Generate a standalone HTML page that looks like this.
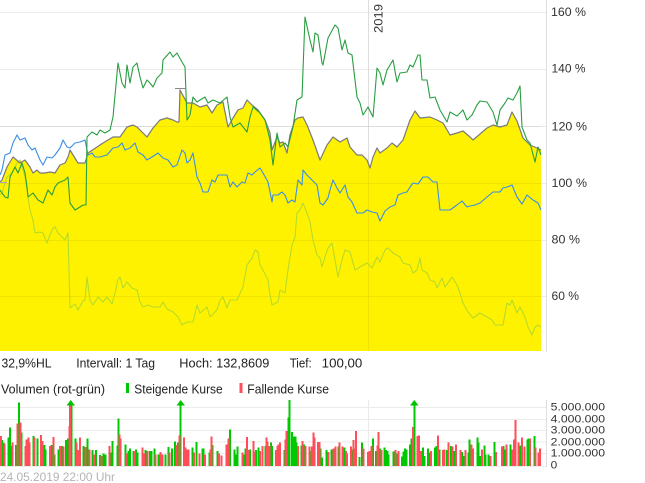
<!DOCTYPE html>
<html><head><meta charset="utf-8"><style>
html,body{margin:0;padding:0;background:#fff;}
svg{display:block;}
text{font-family:"Liberation Sans",Arial,sans-serif;}
</style></head><body>
<svg width="645" height="483" viewBox="0 0 645 483" xmlns="http://www.w3.org/2000/svg">
<rect width="645" height="483" fill="#fff"/>
<g stroke="#ebebeb" stroke-width="1">
<line x1="0" y1="12.5" x2="546" y2="12.5"/>
<line x1="0" y1="69.5" x2="546" y2="69.5"/>
<line x1="0" y1="126.5" x2="546" y2="126.5"/>
<line x1="0" y1="183.5" x2="546" y2="183.5"/>
<line x1="0" y1="240.5" x2="546" y2="240.5"/>
<line x1="0" y1="296.5" x2="546" y2="296.5"/>
<line x1="368.5" y1="0" x2="368.5" y2="351"/>
</g>
<line x1="546.5" y1="0" x2="546.5" y2="352" stroke="#dedede"/>
<polygon fill="#fff200" points="0,182 2,180 7,167 13,157 20,163 25,160 30,167 33,173 37,170 40,173 45,173 50,172 55,173 60,165 65,163 68,157 70,150 78,163 85,163 88,153 97,147 103,143 113,137 120,137 127,127 133,125 137,127 143,133 147,137 153,128 160,120 167,118 173,120 177,122 179,122 180,90 187,103 193,103 200,107 207,105 212,113 217,105 223,102 228,127 233,118 238,110 243,108 247,100 252,105 258,110 265,120 270,133 272,150 277,137 280,143 283,142 287,153 290,135 295,120 298,118 303,117 307,125 313,140 320,160 327,145 333,137 340,142 347,138 350,147 357,155 362,155 367,160 370,168 373,157 377,148 380,153 387,148 392,143 397,147 403,140 410,120 415,111 420,118 430,117 437,120 443,123 450,135 457,133 463,131 470,137 473,140 480,134 487,128 493,125 500,127 507,125 512,112 517,121 523,138 530,145 537,148 541,150 541,351 0,351"/>
<g stroke="rgba(0,0,0,0.06)" stroke-width="1">
<line x1="0" y1="126.5" x2="541" y2="126.5"/>
<line x1="0" y1="183.5" x2="541" y2="183.5"/>
<line x1="0" y1="240.5" x2="541" y2="240.5"/>
<line x1="0" y1="296.5" x2="541" y2="296.5"/>
<line x1="368.5" y1="0" x2="368.5" y2="351"/>
</g>
<polyline fill="none" stroke="#b6da2a" stroke-width="1.1" stroke-linejoin="round" points="0,195 2,193 7,177 12,173 17,163 20,160 23,170 25,177 27,190 30,210 33,220 35,233 40,232 43,233 47,243 50,235 53,228 55,227 58,233 62,237 65,240 68,233 70,308 75,304 78,310 83,301 85,300 87,277 90,300 93,305 98,297 103,302 107,297 112,304 115,293 118,280 120,277 123,288 127,282 132,288 137,290 140,302 143,307 148,305 153,307 160,307 163,302 167,309 173,312 178,317 182,325 187,322 193,322 197,305 200,313 207,307 210,317 217,310 220,300 223,297 227,308 230,300 237,300 243,287 247,265 252,258 255,250 258,252 260,265 263,270 268,280 270,295 272,305 278,302 280,290 285,293 288,270 292,245 295,237 297,213 300,210 303,203 307,213 310,222 313,240 317,255 320,258 322,267 325,257 328,248 332,243 335,260 338,277 342,260 345,250 350,252 355,270 360,267 367,263 372,268 377,257 380,262 385,250 388,248 393,253 400,257 403,263 410,265 413,273 417,270 420,258 422,270 427,273 430,280 435,282 437,288 442,278 445,287 452,277 457,285 460,293 463,303 468,312 473,318 480,313 487,317 492,320 495,325 503,325 507,303 510,305 512,300 517,313 520,307 525,317 528,327 532,335 535,327 538,325 541,327"/>
<polyline fill="none" stroke="#3a8ee6" stroke-width="1.1" stroke-linejoin="round" points="0,175 2,170 5,155 10,153 13,143 17,135 20,140 25,138 28,145 32,150 35,148 40,160 43,165 47,157 52,158 55,155 60,148 63,140 67,147 70,148 75,143 80,142 85,140 88,155 92,153 95,157 100,157 107,155 113,148 118,147 122,143 125,150 130,148 135,143 138,152 143,155 147,160 152,157 155,155 158,153 163,158 168,160 173,167 177,165 182,150 185,153 187,163 190,160 193,153 197,177 200,183 203,192 208,192 212,180 215,182 218,175 223,175 227,175 230,187 233,182 237,187 242,182 245,183 248,173 252,175 255,172 260,168 263,173 268,182 272,202 273,195 278,195 282,192 285,195 288,203 292,200 295,202 298,180 302,185 303,170 307,175 312,180 317,185 320,203 323,205 328,198 330,190 333,180 337,188 340,193 345,185 348,197 352,202 357,213 363,213 367,210 372,212 377,213 380,221 385,211 390,207 395,205 398,195 403,193 407,192 410,187 413,183 418,184 423,177 428,177 433,182 437,182 440,210 445,210 450,210 457,205 462,201 467,207 470,206 475,205 480,203 487,197 493,192 500,192 503,188 507,187 512,185 517,197 522,204 527,195 533,200 538,203 541,210"/>
<polyline fill="none" stroke="#7a7a7a" stroke-width="1.2" stroke-linejoin="round" points="0,182 2,180 7,167 13,157 20,163 25,160 30,167 33,173 37,170 40,173 45,173 50,172 55,173 60,165 65,163 68,157 70,150 78,163 85,163 88,153 97,147 103,143 113,137 120,137 127,127 133,125 137,127 143,133 147,137 153,128 160,120 167,118 173,120 177,122 179,122 180,90 187,103 193,103 200,107 207,105 212,113 217,105 223,102 228,127 233,118 238,110 243,108 247,100 252,105 258,110 265,120 270,133 272,150 277,137 280,143 283,142 287,153 290,135 295,120 298,118 303,117 307,125 313,140 320,160 327,145 333,137 340,142 347,138 350,147 357,155 362,155 367,160 370,168 373,157 377,148 380,153 387,148 392,143 397,147 403,140 410,120 415,111 420,118 430,117 437,120 443,123 450,135 457,133 463,131 470,137 473,140 480,134 487,128 493,125 500,127 507,125 512,112 517,121 523,138 530,145 537,148 541,150"/>
<line x1="175" y1="88.5" x2="186" y2="88.5" stroke="#8a8a8a" stroke-width="1"/>
<line x1="0" y1="182.5" x2="7" y2="182.5" stroke="#a8a8c0" stroke-width="1"/>
<polyline fill="none" stroke="#2a9e42" stroke-width="1.1" stroke-linejoin="round" points="0,190 2,193 5,197 8,198 10,177 15,167 18,173 22,163 25,173 27,187 28,197 33,193 38,200 43,203 48,190 52,195 55,187 58,183 65,180 68,177 70,203 75,210 80,207 83,205 86,205 87,137 92,132 97,135 100,130 105,133 110,130 113,117 118,63 122,83 125,88 127,65 130,83 133,67 137,63 140,77 143,88 147,80 150,83 153,87 157,78 162,73 163,60 170,52 173,57 177,53 182,62 185,67 187,120 190,115 193,97 197,102 200,100 205,97 208,103 213,100 220,103 227,97 230,117 233,127 240,123 247,132 250,117 253,107 260,113 265,120 270,140 273,165 277,133 280,147 285,143 288,147 293,127 297,100 302,97 305,17 310,40 313,52 315,33 318,35 322,63 323,65 328,38 335,25 338,28 342,50 345,40 348,53 352,55 357,97 360,103 363,115 368,107 373,117 377,68 380,73 383,85 387,70 393,60 397,82 400,73 407,72 410,65 413,67 418,55 420,55 422,80 427,80 430,98 435,97 440,110 447,122 450,112 457,116 463,110 467,120 472,115 477,105 480,101 487,102 493,112 497,125 500,110 505,103 508,98 513,100 517,93 520,86 522,127 527,140 530,143 535,162 538,147 541,155"/>
<text transform="translate(382.3,33) rotate(-90)" font-size="12" fill="#333" textLength="29" lengthAdjust="spacingAndGlyphs">2019</text>
<g font-size="12" fill="#333">
<text x="551" y="16" textLength="35" lengthAdjust="spacingAndGlyphs">160 %</text>
<text x="551.5" y="72.7" textLength="34" lengthAdjust="spacingAndGlyphs">140 %</text>
<text x="551.5" y="130.3" textLength="35.5" lengthAdjust="spacingAndGlyphs">120 %</text>
<text x="551.5" y="187" textLength="35.5" lengthAdjust="spacingAndGlyphs">100 %</text>
<text x="551.5" y="243.7" textLength="28.5" lengthAdjust="spacingAndGlyphs">80 %</text>
<text x="551.5" y="300" textLength="27.5" lengthAdjust="spacingAndGlyphs">60 %</text>
</g>
<g font-size="13" fill="#222">
<text x="1.5" y="367.5" textLength="50" lengthAdjust="spacingAndGlyphs">32,9%HL</text>
<text x="76.3" y="367.5" textLength="78.7" lengthAdjust="spacingAndGlyphs">Intervall: 1 Tag</text>
<text x="179.3" y="367.5" textLength="90" lengthAdjust="spacingAndGlyphs">Hoch: 132,8609</text>
<text x="289.7" y="367.5" textLength="22" lengthAdjust="spacingAndGlyphs">Tief:</text>
<text x="321.7" y="367.5" textLength="40.6" lengthAdjust="spacingAndGlyphs">100,00</text>
</g>
<g font-size="12.5" fill="#222">
<text x="1" y="393.3" textLength="104" lengthAdjust="spacingAndGlyphs">Volumen (rot-grün)</text>
<text x="134.3" y="393.3" textLength="88.4" lengthAdjust="spacingAndGlyphs">Steigende Kurse</text>
<text x="247.3" y="393.3" textLength="81.7" lengthAdjust="spacingAndGlyphs">Fallende Kurse</text>
</g>
<rect x="126" y="383" width="3" height="10" fill="#00c800"/>
<rect x="239.5" y="383" width="3" height="10" fill="#ff4d5a"/>
<g stroke="#ebebeb" stroke-width="1">
<line x1="0" y1="407.5" x2="546" y2="407.5"/>
<line x1="0" y1="419.5" x2="546" y2="419.5"/>
<line x1="0" y1="430.5" x2="546" y2="430.5"/>
<line x1="0" y1="442" x2="546" y2="442"/>
<line x1="0" y1="453.5" x2="546" y2="453.5"/>
<line x1="0" y1="466.5" x2="546" y2="466.5"/>
<line x1="368.5" y1="400" x2="368.5" y2="466"/>
</g>
<line x1="546.5" y1="400" x2="546.5" y2="467" stroke="#dedede"/>
<g transform="translate(0,396) scale(0.33333)" stroke-width="6" fill="none" shape-rendering="crispEdges">
<path stroke="#00c800" d="M6 210V132M10 210V140M25 210V125M30 210V95M33 210V150M48 210V147M57 210V20M65 210V110M100 210V120M112 210V128M133 210V147M137 210V160M155 210V147M163 210V175M175 210V160M186 210V150M198 210V132M204 210V128M214 210V20M226 210V128M250 210V150M262 210V128M277 210V162M288 210V162M300 210V177M310 210V172M316 210V175M333 210V170M337 210V135M352 210V148M355 210V68M376 210V146M385 210V165M390 210V158M400 210V165M408 210V160M412 210V170M437 210V162M450 210V165M455 210V165M463 210V158M476 210V175M496 210V175M505 210V153M516 210V158M525 210V137M534 210V140M541 210V22M577 210V155M589 210V138M607 210V158M610 210V158M628 210V170M638 210V147M652 210V165M690 210V100M704 210V160M708 210V175M712 210V152M730 210V175M737 210V158M750 210V160M768 210V162M776 210V155M796 210V150M813 210V140"/>
<path stroke="#ff4d5a" d="M3 210V120M13 210V142M38 210V140M52 210V83M61 210V80M76 210V150M80 210V130M85 210V125M89 210V140M104 210V125M123 210V117M128 210V135M150 210V150M160 210V123M180 210V150M190 210V152M208 210V90M210 210V22M230 210V140M234 210V162M240 210V125M256 210V153M268 210V160M282 210V175M305 210V180M328 210V150M358 210V115M362 210V128M380 210V172M404 210V165M427 210V155M432 210V172M443 210V165M466 210V175M482 210V168M488 210V175M509 210V170M530 210V147M538 210V118M552 210V125M557 210V155M562 210V160M565 210V160M582 210V170M598 210V172M615 210V175M632 210V160M635 210V122M657 210V172M664 210V178M680 210V145M685 210V128M727 210V170M741 210V123M745 210V162M760 210V135M763 210V168M780 210V165M787 210V150M800 210V125M803 210V137M808 210V150"/>
</g>
<g transform="translate(272,396) scale(0.33333)" stroke-width="6" fill="none" shape-rendering="crispEdges">
<path stroke="#00c800" d="M0 210V150M37 210V162M49 210V65M52 210V12M60 210V108M66 210V122M70 210V122M74 210V140M88 210V148M96 210V145M116 210V165M145 210V158M150 210V185M163 210V162M166 210V175M178 210V160M199 210V152M217 210V155M241 210V160M262 210V183M270 210V140M303 210V128M312 210V165M324 210V158M337 210V155M342 210V162M346 210V165M350 210V175M365 210V167M373 210V172M390 210V182M395 210V167M399 210V158M403 210V160M414 210V145M419 210V128M427 210V18M453 210V155M457 210V180M468 210V158M472 210V170M489 210V155M494 210V150M503 210V160M525 210V162M537 210V150M548 210V165M570 210V168M574 210V180M590 210V170M593 210V130M616 210V125M620 210V140M625 210V180M637 210V148M641 210V175M650 210V175M667 210V138M694 210V150M699 210V160M716 210V145M745 210V148M767 210V130M770 210V128M787 210V120"/>
<path stroke="#ff4d5a" d="M12 210V162M16 210V150M20 210V145M24 210V140M40 210V130M44 210V105M78 210V150M92 210V135M100 210V150M112 210V152M120 210V152M124 210V110M127 210V125M138 210V138M142 210V138M170 210V168M185 210V158M190 210V152M203 210V140M212 210V152M222 210V165M225 210V172M237 210V152M244 210V132M248 210V158M252 210V105M275 210V158M288 210V168M293 210V165M298 210V150M317 210V148M320 210V108M328 210V162M370 210V162M380 210V165M423 210V93M437 210V120M441 210V118M447 210V165M477 210V165M498 210V118M513 210V162M517 210V160M529 210V140M542 210V152M552 210V145M565 210V162M580 210V162M598 210V145M603 210V158M630 210V160M655 210V180M672 210V168M690 210V152M703 210V145M720 210V160M726 210V130M730 210V72M740 210V140M750 210V125M758 210V152M774 210V128M791 210V155M800 210V170M804 210V158"/>
</g>
<polygon points="66.5,405.5 75,405.5 70.7,400" fill="#00c000"/>
<polygon points="176.5,405.5 185,405.5 180.7,400" fill="#00c000"/>
<polygon points="410,405.5 418.5,405.5 414.3,400" fill="#00c000"/>
<g font-size="11" fill="#333">
<text x="550.7" y="410.7" textLength="54.3" lengthAdjust="spacingAndGlyphs">5.000.000</text>
<text x="550.7" y="422.3" textLength="54.3" lengthAdjust="spacingAndGlyphs">4.000.000</text>
<text x="550.7" y="433.7" textLength="54.3" lengthAdjust="spacingAndGlyphs">3.000.000</text>
<text x="550.7" y="445.7" textLength="54.3" lengthAdjust="spacingAndGlyphs">2.000.000</text>
<text x="550.7" y="456.7" textLength="54.3" lengthAdjust="spacingAndGlyphs">1.000.000</text>
<text x="550.7" y="468.3" textLength="6.6" lengthAdjust="spacingAndGlyphs">0</text>
</g>
<text x="0" y="481" font-size="12" fill="#b4b4b4" textLength="115" lengthAdjust="spacingAndGlyphs">24.05.2019 22:00 Uhr</text>
</svg>
</body></html>
